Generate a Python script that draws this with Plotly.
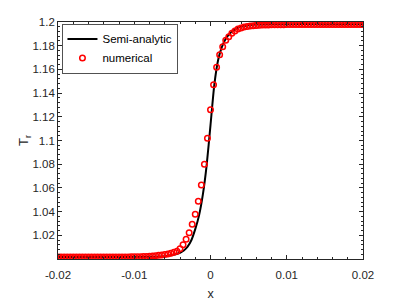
import plotly.graph_objects as go

# Semi-analytic curve
line_x = [-0.02, -0.015, -0.01, -0.008, -0.006, -0.005, -0.004, -0.0035, -0.003,
          -0.0025, -0.002, -0.0015, -0.001, -0.0005, 0.0, 0.0005, 0.001, 0.0015,
          0.002, 0.0025, 0.003, 0.0035, 0.004, 0.005, 0.006, 0.008, 0.01, 0.015, 0.02]
line_y = [1.0016, 1.0016, 1.0016, 1.0018, 1.0024, 1.0033, 1.0053, 1.0072, 1.0104,
          1.0160, 1.0252, 1.0368, 1.0545, 1.0795, 1.1130, 1.1470, 1.1680, 1.1790,
          1.1858, 1.1900, 1.1928, 1.1948, 1.1960, 1.1972, 1.1978, 1.1981, 1.1982, 1.1982, 1.1982]

# Numerical points: x from -0.02 to 0.02 step 0.0004 (101 points)
num_x = [round(-0.02 + 0.0004 * i, 6) for i in range(101)]
num_y = ([1.0016] * 21 +
         [1.0016, 1.0017, 1.0017, 1.0018, 1.0018,
          1.0019, 1.0020, 1.0021, 1.0022, 1.0024, 1.0026, 1.0028, 1.0031, 1.0034,
          1.0038, 1.0043, 1.0049, 1.0056, 1.0066,
          1.0087, 1.0121, 1.0166, 1.0222, 1.0293, 1.0377, 1.0487, 1.0624, 1.0799,
          1.1019, 1.1260, 1.1470, 1.1618, 1.1724, 1.1792, 1.1846, 1.1876, 1.1905,
          1.1924, 1.1940, 1.1950, 1.1957, 1.1962, 1.1966, 1.1969, 1.1971, 1.1973,
          1.1974, 1.1975, 1.1975, 1.1976, 1.1976, 1.1977, 1.1977, 1.1977, 1.1978] +
         [1.1978] * 25)

x_ticks = [-0.02, -0.01, 0.0, 0.01, 0.02]
x_ticklabels = ["-0.02", "-0.01", "0", "0.01", "0.02"]
y_ticks = [1.02, 1.04, 1.06, 1.08, 1.1, 1.12, 1.14, 1.16, 1.18, 1.2]
y_ticklabels = ["1.02", "1.04", "1.06", "1.08", "1.1", "1.12", "1.14", "1.16", "1.18", "1.2"]

FONT = "Liberation Sans, Arial, Helvetica, sans-serif"
AX = "#262626"

fig = go.Figure()
fig.add_trace(go.Scatter(
    x=line_x, y=line_y, mode="lines", name="Semi-analytic",
    line=dict(color="black", width=2, shape="spline", smoothing=0.6),
))
fig.add_trace(go.Scatter(
    x=num_x, y=num_y, mode="markers", name="numerical",
    marker=dict(symbol="circle-open", color="#ff0000", size=5.5,
                line=dict(color="#ff0000", width=1.5)),
))

axis_common = dict(
    showline=True, linecolor=AX, linewidth=0.8, mirror="ticks",
    ticks="inside", ticklen=4, tickwidth=0.8, tickcolor=AX,
    showgrid=False, zeroline=False, automargin=False,
    tickfont=dict(family=FONT, size=11.5, color=AX),
)

fig.update_xaxes(
    range=[-0.02, 0.02], tickvals=x_ticks, ticktext=x_ticklabels,
    ticklabelstandoff=5,
    title=dict(text="x", font=dict(family=FONT, size=12.5, color=AX), standoff=10),
    minor=dict(ticks="inside", ticklen=2, tickwidth=0.8, tickcolor=AX, dtick=0.002),
    **axis_common,
)
fig.update_yaxes(
    range=[1.0, 1.2], tickvals=y_ticks, ticktext=y_ticklabels,
    title=dict(text="T<sub>r</sub>", font=dict(family=FONT, size=13, color=AX), standoff=0),
    minor=dict(ticks="inside", ticklen=2, tickwidth=0.8, tickcolor=AX, dtick=0.004),
    **axis_common,
)

fig.update_layout(
    width=402, height=301,
    margin=dict(l=58, r=39, t=22, b=42, autoexpand=False),
    paper_bgcolor="white", plot_bgcolor="white",
    showlegend=True,
    legend=dict(
        x=0.012, y=0.993, xanchor="left", yanchor="top",
        bgcolor="white", bordercolor=AX, borderwidth=0.8,
        font=dict(family=FONT, size=11.5, color="black"),
        itemwidth=30, tracegroupgap=0,
    ),
)

fig.write_html(
    "out.html",
    config={"displayModeBar": False},
    post_script="document.body.style.margin='0';document.body.style.overflow='hidden';",
)
